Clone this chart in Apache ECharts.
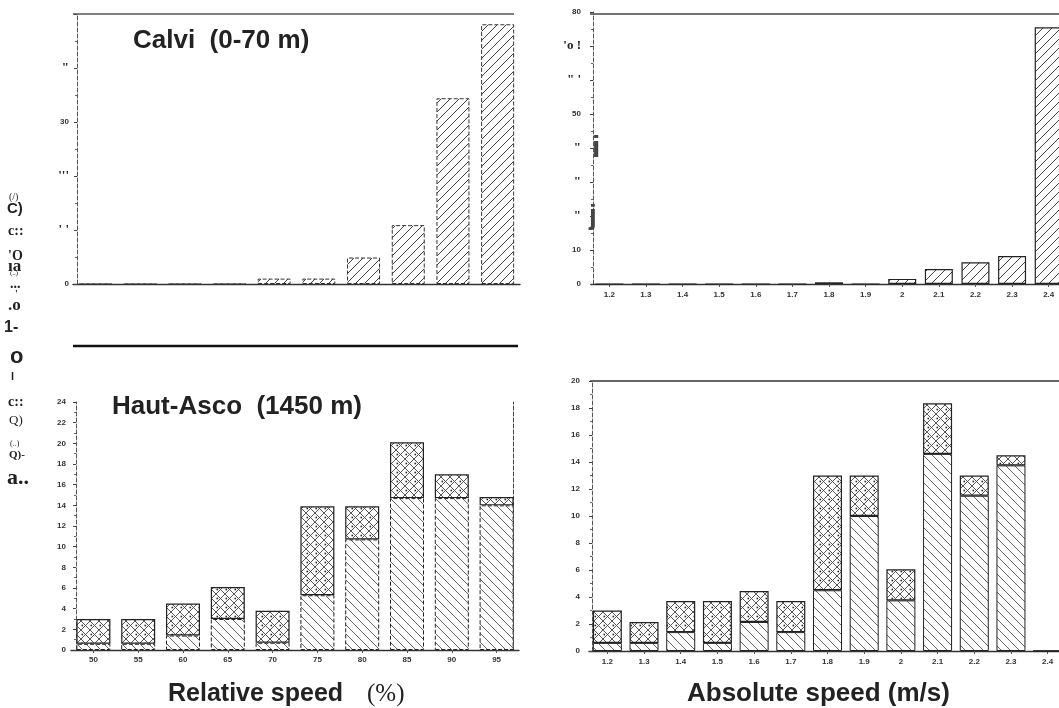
<!DOCTYPE html>
<html>
<head>
    <meta charset="UTF-8">
    <title>Calvi / Haut-Asco</title>
    <script src="https://cdn.jsdelivr.net/npm/echarts@6/dist/echarts.min.js"></script>
    <style>
        html, body { margin: 0; padding: 0; background: #fff; }
        #chart { width: 1059px; height: 708px; }
    </style>
</head>
<body>
<div id="chart"></div>
<script type="text/javascript">
    // categories
    var relCats = ['50', '55', '60', '65', '70', '75', '80', '85', '90', '95'];
    var absCats = ['1.2', '1.3', '1.4', '1.5', '1.6', '1.7', '1.8', '1.9', '2', '2.1', '2.2', '2.3', '2.4'];

    // Calvi (0-70 m)
    var calviRel = [0, 0, 0, 0, 1.0, 1.0, 4.9, 10.9, 34.4, 48.1];
    var calviAbs = [0, 0, 0, 0, 0, 0, 0.5, 0, 1.5, 4.4, 6.4, 8.2, 75.5];

    // Haut-Asco (1450 m): lower part and bar total
    var ascoRelLower = [0.6, 0.6, 1.4, 3.0, 0.7, 5.3, 10.7, 14.7, 14.7, 14.0];
    var ascoRelTotal = [3.0, 3.0, 4.5, 6.1, 3.8, 13.9, 13.9, 20.1, 17.0, 14.8];
    var ascoAbsLower = [0.6, 0.6, 1.4, 0.6, 2.15, 1.4, 4.5, 10.0, 3.75, 14.6, 11.5, 13.75, 0];
    var ascoAbsTotal = [3.0, 2.15, 3.7, 3.7, 4.45, 3.7, 13.0, 13.0, 6.05, 18.35, 13.0, 14.5, 0];

    // y tick labels as printed (scan)
    var calviRelTicks = {0: '0', 10: "{g|' '}", 20: "{g|'''}", 30: '30', 40: '{g|"}'};
    var calviAbsTicks = {0: '0', 10: '10', 20: '{g|"}', 30: '{g|"}', 40: '{g|"}',
        50: '50', 60: '{g|" \'}', 70: "{g|'o !}", 80: '80'};

    // stray big glyphs and left side label, as printed
    var sideGlyphs = [
        ['i', 592, 149, 30, 'Liberation Sans', 'bold', '#444'],
        ['j', 589, 216, 28, 'Liberation Sans', 'bold', '#444'],
        ['(/)', 9, 197, 10, 'serif', 'normal'],
        ['C)', 7, 209, 15, 'Liberation Sans', 'bold'],
        ['c::', 8, 231, 14, 'serif', 'bold'],
        ["'O", 8, 256, 14, 'serif', 'bold'],
        ['ıa', 8, 267, 17, 'serif', 'bold'],
        ['(..)', 10, 273, 7, 'serif', 'normal'],
        ['...', 10, 284, 14, 'serif', 'bold'],
        ["'", 15, 294, 10, 'serif', 'bold'],
        ['.o', 8, 306, 17, 'serif', 'bold'],
        ['1-', 4, 328, 16, 'Liberation Sans', 'bold'],
        ['o', 10, 357, 22, 'Liberation Sans', 'bold'],
        ['l', 11, 377, 11, 'Liberation Sans', 'bold'],
        ['c::', 8, 402, 14, 'serif', 'bold'],
        ['Q)', 9, 421, 13, 'serif', 'normal'],
        ['(..)', 10, 444, 8, 'serif', 'normal'],
        ['Q)-', 9, 455, 11, 'serif', 'bold'],
        ['a..', 7, 478, 22, 'serif', 'bold']
    ];

    function pattern(kind, color, lw) {
        var c = document.createElement('canvas');
        var s = 9;
        c.width = s;
        c.height = s;
        var g = c.getContext('2d');
        g.fillStyle = '#fff';
        g.fillRect(0, 0, s, s);
        g.strokeStyle = color;
        g.lineWidth = lw;
        g.beginPath();
        if (kind === 'slash' || kind === 'cross') {
            g.moveTo(-1, s + 1); g.lineTo(s + 1, -1);
            g.moveTo(-2, 2); g.lineTo(2, -2);
            g.moveTo(s - 2, s + 2); g.lineTo(s + 2, s - 2);
        }
        if (kind === 'back' || kind === 'cross') {
            g.moveTo(-1, -1); g.lineTo(s + 1, s + 1);
            g.moveTo(-2, s - 2); g.lineTo(2, s + 2);
            g.moveTo(s - 2, -2); g.lineTo(s + 2, 2);
        }
        g.stroke();
        if (kind === 'cross') {
            g.fillStyle = '#222';
            g.fillRect(0.5, 3.7, 1.6, 1.6);
        }
        return {image: c, repeat: 'repeat'};
    }

    var tickFont = {fontSize: 8, fontWeight: 'bold', fontFamily: 'Liberation Sans', color: '#333'};

    function catAxis(idx, cats, showLabel, margin) {
        return {
            type: 'category', gridIndex: idx, data: cats,
            axisLine: {lineStyle: {color: '#333', width: 1.4}},
            axisTick: {show: showLabel, length: 3, alignWithLabel: true, lineStyle: {color: '#555'}},
            axisLabel: Object.assign({show: showLabel, margin: margin}, tickFont)
        };
    }

    function valAxis(idx, max, interval, offset, labels, margin) {
        var lab = Object.assign({margin: margin}, tickFont);
        if (labels) {
            lab.formatter = function (v) { return labels[v] !== undefined ? labels[v] : ''; };
            lab.rich = {
                g: {fontSize: 13, fontWeight: 'bold', fontFamily: 'Liberation Serif', color: '#222'}
            };
        }
        return {
            type: 'value', gridIndex: idx, min: 0, max: max, interval: interval, offset: offset,
            splitLine: {show: false},
            axisLine: {show: true, lineStyle: {color: '#555', width: 1, type: 'dashed'}},
            axisTick: {show: true, length: 3, lineStyle: {color: '#444'}},
            minorTick: {show: true, splitNumber: 2, length: 2, lineStyle: {color: '#666'}},
            axisLabel: lab
        };
    }

    var slash = pattern('slash', '#444', 1);
    var back = pattern('back', '#666', 1);
    var cross = pattern('cross', '#444', 0.9);

    var ascoRelUpper = ascoRelTotal.map(function (t, i) { return +(t - ascoRelLower[i]).toFixed(2); });
    var ascoAbsUpper = ascoAbsTotal.map(function (t, i) { return +(t - ascoAbsLower[i]).toFixed(2); });

    var titleFont = 'bold 26px "Liberation Sans"';
    var graphics = [
        {type: 'line', shape: {x1: 73, y1: 14, x2: 514, y2: 14}, style: {stroke: '#555', lineWidth: 1.5}},
        {type: 'line', shape: {x1: 590, y1: 14, x2: 1059, y2: 14}, style: {stroke: '#444', lineWidth: 1.5}},
        {type: 'line', shape: {x1: 73, y1: 346, x2: 518, y2: 346}, style: {stroke: '#111', lineWidth: 2.5}},
        {type: 'line', shape: {x1: 590, y1: 381, x2: 1059, y2: 381}, style: {stroke: '#333', lineWidth: 1.5}},
        {type: 'text', x: 133, y: 41, style: {text: 'Calvi  (0-70 m)', font: titleFont, fill: '#222', textVerticalAlign: 'middle'}},
        {type: 'text', x: 112, y: 407, style: {text: 'Haut-Asco  (1450 m)', font: titleFont, fill: '#222', textVerticalAlign: 'middle'}},
        {type: 'text', x: 168, y: 694, style: {text: 'Relative speed', font: 'bold 25px "Liberation Sans"', fill: '#222', textVerticalAlign: 'middle'}},
        {type: 'text', x: 367, y: 694, style: {text: '(%)', font: '25px "Liberation Serif"', fill: '#222', textVerticalAlign: 'middle'}},
        {type: 'text', x: 687, y: 694, style: {text: 'Absolute speed (m/s)', font: titleFont, fill: '#222', textVerticalAlign: 'middle'}}
    ];
    sideGlyphs.forEach(function (s) {
        graphics.push({
            type: 'text', x: s[1], y: s[2], z: 100,
            style: {text: s[0], font: s[5] + ' ' + s[3] + 'px "' + (s[4] === 'serif' ? 'Liberation Serif' : s[4]) + '"',
                fill: s[6] || '#222', textVerticalAlign: 'middle'}
        });
    });

    var chart = echarts.init(document.getElementById('chart'));
    chart.setOption({
        backgroundColor: '#fff',
        animation: false,
        grid: [
            {left: 73, top: 14, width: 447, height: 270, outerBoundsMode: 'none'},
            {left: 591, top: 12, width: 476, height: 272, outerBoundsMode: 'none'},
            {left: 71, top: 402, width: 448, height: 248, outerBoundsMode: 'none'},
            {left: 589, top: 381, width: 477, height: 270, outerBoundsMode: 'none'}
        ],
        xAxis: [
            catAxis(0, relCats, false, 6),
            catAxis(1, absCats, true, 7),
            catAxis(2, relCats, true, 6),
            catAxis(3, absCats, true, 7)
        ],
        yAxis: [
            valAxis(0, 50, 10, -4, calviRelTicks, 8),
            valAxis(1, 80, 10, -2, calviAbsTicks, 12),
            valAxis(2, 24, 2, -5, null, 10),
            valAxis(3, 20, 2, -3, null, 12),
            {type: 'value', gridIndex: 2, position: 'right', offset: -6, min: 0, max: 24,
                axisLine: {show: true, lineStyle: {color: '#444', type: 'dashed'}},
                axisTick: {show: false}, axisLabel: {show: false}, splitLine: {show: false}}
        ],
        series: [
            {type: 'bar', xAxisIndex: 0, yAxisIndex: 0, data: calviRel, barWidth: 33,
                itemStyle: {color: slash, borderColor: '#333', borderWidth: 1, borderType: 'dashed'}},
            {type: 'bar', xAxisIndex: 1, yAxisIndex: 1, data: calviAbs, barWidth: 28,
                itemStyle: {color: slash, borderColor: '#222', borderWidth: 1.2}},
            {type: 'bar', xAxisIndex: 2, yAxisIndex: 2, stack: 'rel', data: ascoRelLower, barWidth: 34,
                itemStyle: {color: back, borderColor: '#222', borderWidth: 1, borderType: 'dashed'}},
            {type: 'bar', xAxisIndex: 2, yAxisIndex: 2, stack: 'rel', data: ascoRelUpper, barWidth: 34,
                itemStyle: {color: cross, borderColor: '#222', borderWidth: 1.2}},
            {type: 'bar', xAxisIndex: 3, yAxisIndex: 3, stack: 'abs', data: ascoAbsLower, barWidth: 29,
                itemStyle: {color: back, borderColor: '#222', borderWidth: 1}},
            {type: 'bar', xAxisIndex: 3, yAxisIndex: 3, stack: 'abs', data: ascoAbsUpper, barWidth: 29,
                itemStyle: {color: cross, borderColor: '#222', borderWidth: 1.2}}
        ],
        graphic: graphics
    });
</script>
</body>
</html>
